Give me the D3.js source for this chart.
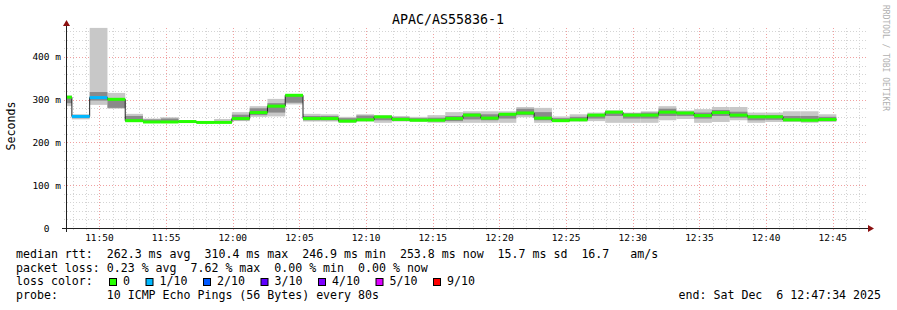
<!DOCTYPE html>
<html>
<head>
<meta charset="utf-8">
<script src="https://cdn.jsdelivr.net/npm/d3@7/dist/d3.min.js"></script>
<style>
  body { margin: 0; background: #ffffff; }
  svg text { font-family: "DejaVu Sans Mono", monospace; white-space: pre; }
</style>
</head>
<body>
<svg id="chart"></svg>
<script>
// --- data ---
const title = 'APAC/AS55836-1';
const rangeStart = new Date(2025, 11, 6, 11, 47, 34);
const rangeEnd = new Date(2025, 11, 6, 12, 47, 34);
const firstStepEnd = new Date(2025, 11, 6, 11, 47, 56);
const stepSeconds = 80;

// median rtt per 80s step (ms)
const medianRtt = [306, 261, 305, 301, 251, 248, 248, 249, 246.9, 247,
  256, 270, 285, 310.4, 256, 256, 250, 253, 260, 254,
  252, 252, 256, 264, 257, 266, 269, 257, 251, 253,
  264, 271, 264, 264, 271, 269, 263, 270, 264, 260,
  260, 253, 252, 253.8];
// index into lossColors
const lossIndex = [0, 1, 1, 0, 0, 0, 0, 0, 0, 0,
  0, 0, 0, 0, 0, 0, 0, 0, 0, 0,
  0, 0, 0, 0, 0, 0, 0, 0, 0, 0,
  0, 0, 0, 0, 0, 0, 0, 0, 0, 0,
  0, 0, 0, 0];
// outer smoke (lightest ping to slowest ping)
const smokeMin = [285, 254, 288, 279, 248, 247, 248, 247, 246, 246,
  250, 260, 261, 289, 249, 249, 246, 249, 246, 249,
  249, 246, 246, 246, 246, 246, 259, 246, 248, 249,
  250, 246, 246, 246, 252, 255, 246, 248, 252, 246,
  248, 248, 246, 248];
const smokeMax = [310, 266, 468, 316, 267, 256, 259, 252, 249, 255,
  271, 285, 302, 312, 267, 266, 260, 266, 264, 262,
  260, 264, 271, 273, 273, 273, 283, 281, 261, 266,
  270, 275, 270, 273, 285, 275, 278, 283, 283, 270,
  270, 273, 273, 266];
// inner (denser) smoke
const coreLow = [292, 257, 298, 281, 250, 248, 248, 248, 247, 247,
  252, 264, 270, 293, 252, 252, 248, 251, 252, 251,
  250, 250, 250, 254, 252, 256, 264, 252, 250, 251,
  256, 262, 256, 256, 262, 262, 256, 262, 258, 252,
  253, 250, 250, 250];
const coreHigh = [304, 262, 318, 301, 262, 254, 256, 250, 248, 250,
  265, 280, 292, 310, 262, 262, 257, 263, 260, 259,
  257, 258, 262, 268, 266, 268, 279, 271, 257, 260,
  266, 272, 268, 270, 279, 272, 270, 276, 272, 264,
  264, 262, 262, 260];

const yTicks = [0, 100, 200, 300, 400];
const lossLabels = ['0', '1/10', '2/10', '3/10', '4/10', '5/10', '9/10'];
const lossColors = ['#26ff00', '#00b8ff', '#0059ff', '#5e00ff', '#7e00ff', '#dd00ff', '#ff0000'];
const statLines = [
  'median rtt:  262.3 ms avg  310.4 ms max  246.9 ms min  253.8 ms now  15.7 ms sd  16.7   am/s',
  'packet loss: 0.23 % avg  7.62 % max  0.00 % min  0.00 % now'
];
const probeLine = 'probe:       10 ICMP Echo Pings (56 Bytes) every 80s';
const endLine = 'end: Sat Dec  6 12:47:34 2025';

// --- layout ---
const width = 897, height = 310;
const plot = { left: 67, right: 867, top: 28, bottom: 228 };

const svg = d3.select('#chart')
  .attr('width', width)
  .attr('height', height);

svg.append('rect').attr('width', width).attr('height', height).attr('fill', '#ffffff');

const xScale = d3.scaleTime()
  .domain([rangeStart, rangeEnd])
  .range([plot.left, plot.right]);

const yScale = d3.scaleLinear()
  .domain([0, 467.8])
  .range([plot.bottom, plot.top]);

// step start / end times
const steps = medianRtt.map((m, i) => {
  const end = new Date(firstStepEnd.getTime() + i * stepSeconds * 1000);
  const start = i === 0 ? rangeStart : new Date(end.getTime() - stepSeconds * 1000);
  return { start, end, median: m, loss: lossIndex[i],
    min: smokeMin[i], max: smokeMax[i], lo: coreLow[i], hi: coreHigh[i] };
});

const px = v => Math.round(v) + 0.5;

// --- grid ---
const grid = svg.append('g');
const minutes = d3.timeMinute.range(rangeStart, rangeEnd);
minutes.forEach(t => {
  const major = t.getMinutes() % 5 === 0;
  const x = px(xScale(t));
  grid.append('line')
    .attr('x1', x).attr('x2', x)
    .attr('y1', plot.top).attr('y2', plot.bottom + 2)
    .attr('stroke', major ? '#f0a0a0' : '#d4d4d4')
    .attr('stroke-dasharray', '1,2');
});
d3.range(20, 467, 20).forEach(v => {
  const major = v % 100 === 0;
  const y = px(yScale(v));
  grid.append('line')
    .attr('x1', plot.left - 3).attr('x2', plot.right)
    .attr('y1', y).attr('y2', y)
    .attr('stroke', major ? '#f0a0a0' : '#d4d4d4')
    .attr('stroke-dasharray', '1,2');
});

// --- smoke ---
const chart = svg.append('g');
chart.selectAll('rect.smoke')
  .data(steps)
  .join('rect')
  .attr('class', 'smoke')
  .attr('x', d => xScale(d.start))
  .attr('width', d => xScale(d.end) - xScale(d.start))
  .attr('y', d => yScale(d.max))
  .attr('height', d => yScale(d.min) - yScale(d.max))
  .attr('fill', '#c8c8c8');

chart.selectAll('rect.core')
  .data(steps)
  .join('rect')
  .attr('class', 'core')
  .attr('x', d => xScale(d.start))
  .attr('width', d => xScale(d.end) - xScale(d.start))
  .attr('y', d => yScale(d.hi))
  .attr('height', d => yScale(d.lo) - yScale(d.hi))
  .attr('fill', '#8a8a8a');

// median line (black, stepped)
const linePoints = steps.map(d => [xScale(d.start), yScale(d.median)]);
linePoints.push([xScale(steps[steps.length - 1].end), yScale(steps[steps.length - 1].median)]);
chart.append('path')
  .attr('d', d3.line().curve(d3.curveStepAfter)(linePoints))
  .attr('fill', 'none')
  .attr('stroke', '#202020')
  .attr('stroke-width', 1);

// loss coloured bands over the median
chart.selectAll('rect.loss')
  .data(steps)
  .join('rect')
  .attr('class', 'loss')
  .attr('x', d => xScale(d.start))
  .attr('width', d => xScale(d.end) - xScale(d.start))
  .attr('y', d => yScale(d.median) - 1.5)
  .attr('height', 3)
  .attr('fill', d => lossColors[d.loss]);

// --- axes ---
const axisColor = '#202020';
const arrowColor = '#8b1010';
svg.append('line')
  .attr('x1', plot.left - 5).attr('x2', plot.right + 2)
  .attr('y1', plot.bottom + 0.5).attr('y2', plot.bottom + 0.5)
  .attr('stroke', axisColor);
svg.append('line')
  .attr('x1', plot.left - 0.5).attr('x2', plot.left - 0.5)
  .attr('y1', plot.bottom + 4).attr('y2', plot.top - 4)
  .attr('stroke', axisColor);
svg.append('path')
  .attr('d', `M${plot.right + 1},${plot.bottom - 3} L${plot.right + 7},${plot.bottom + 0.5} L${plot.right + 1},${plot.bottom + 4} Z`)
  .attr('fill', arrowColor);
svg.append('path')
  .attr('d', `M${plot.left - 4},${plot.top - 2} L${plot.left - 0.5},${plot.top - 8} L${plot.left + 3},${plot.top - 2} Z`)
  .attr('fill', arrowColor);

// x labels
const fmt = d3.timeFormat('%H:%M');
const labelTimes = minutes.filter(t => t.getMinutes() % 5 === 0);
svg.selectAll('text.xlab')
  .data(labelTimes)
  .join('text')
  .attr('class', 'xlab')
  .attr('x', d => xScale(d))
  .attr('y', 241)
  .attr('text-anchor', 'middle')
  .attr('font-size', '9.5px')
  .attr('fill', '#000')
  .text(fmt);

// y labels
svg.selectAll('text.ylab')
  .data(yTicks)
  .join('text')
  .attr('class', 'ylab')
  .attr('x', 61)
  .attr('y', d => yScale(d) + 3.5)
  .attr('text-anchor', 'end')
  .attr('font-size', '9.5px')
  .attr('fill', '#000')
  .text(d => d === 0 ? '0  ' : `${d} m`);

svg.append('text')
  .attr('transform', 'translate(15,126) rotate(-90)')
  .attr('text-anchor', 'middle')
  .attr('font-size', '11.6px')
  .attr('fill', '#000')
  .text('Seconds');

// title + watermark
svg.append('text')
  .attr('x', 448).attr('y', 24)
  .attr('text-anchor', 'middle')
  .attr('font-size', '13.3px')
  .attr('fill', '#000')
  .text(title);

svg.append('text')
  .attr('transform', 'translate(883,5) rotate(90)')
  .attr('font-size', '8px')
  .attr('fill', '#b0b0b0')
  .text('RRDTOOL / TOBI OETIKER');

// --- legend ---
const legendFont = '11.6px';
svg.selectAll('text.stat')
  .data(statLines)
  .join('text')
  .attr('class', 'stat')
  .attr('x', 16)
  .attr('y', (d, i) => 258 + i * 13.6)
  .attr('font-size', legendFont)
  .attr('fill', '#000')
  .text(d => d);

svg.append('text')
  .attr('x', 16).attr('y', 285.2)
  .attr('font-size', legendFont)
  .attr('fill', '#000')
  .text('loss color:');

let cursor = 109;
lossLabels.forEach((lab, i) => {
  svg.append('rect')
    .attr('x', cursor + 0.5).attr('y', 278.5)
    .attr('width', 7).attr('height', 7)
    .attr('fill', lossColors[i])
    .attr('stroke', '#000');
  svg.append('text')
    .attr('x', cursor + 14).attr('y', 285.2)
    .attr('font-size', legendFont)
    .attr('fill', '#000')
    .text(lab);
  cursor += 14 + lab.length * 7 + 15.5;
});

svg.append('text')
  .attr('x', 16).attr('y', 299)
  .attr('font-size', legendFont)
  .attr('fill', '#000')
  .text(probeLine);

svg.append('text')
  .attr('x', 881).attr('y', 299)
  .attr('text-anchor', 'end')
  .attr('font-size', legendFont)
  .attr('fill', '#000')
  .text(endLine);
</script>
</body>
</html>
